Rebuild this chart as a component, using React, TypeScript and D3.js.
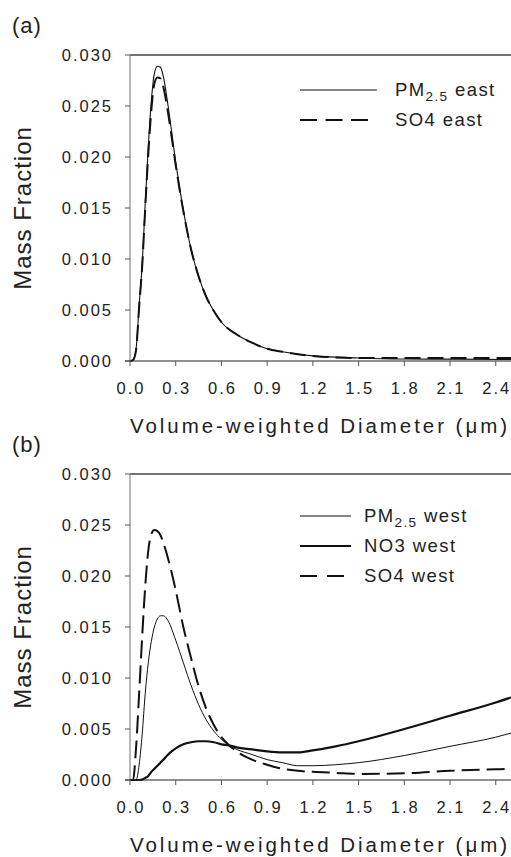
import React from "react";
import * as d3 from "d3";

const xTicks = [0, 0.3, 0.6, 0.9, 1.2, 1.5, 1.8, 2.1, 2.4];
const yTicks = [0, 0.005, 0.01, 0.015, 0.02, 0.025, 0.03];

const diameterA = [0, 0.02, 0.04, 0.06, 0.08, 0.1, 0.12, 0.14, 0.16, 0.18, 0.2, 0.22, 0.25, 0.3, 0.35, 0.4, 0.45, 0.5, 0.55, 0.6, 0.7, 0.8, 0.9, 1.0, 1.2, 1.5, 1.8, 2.1, 2.5];
const pm25East = [0, 0.0001, 0.0012, 0.0055, 0.0095, 0.0155, 0.021, 0.0255, 0.0282, 0.0289, 0.0288, 0.0278, 0.025, 0.0195, 0.0148, 0.011, 0.0083, 0.0063, 0.0049, 0.0038, 0.0026, 0.0018, 0.0012, 0.0009, 0.0005, 0.0003, 0.0002, 0.00018, 0.00015];
const so4East = [0, 0.0001, 0.0011, 0.0053, 0.0093, 0.015, 0.0203, 0.0246, 0.0272, 0.0278, 0.0277, 0.0268, 0.0243, 0.0192, 0.0147, 0.011, 0.0083, 0.0063, 0.0049, 0.0038, 0.0026, 0.0018, 0.0012, 0.0009, 0.0005, 0.0003, 0.0003, 0.0003, 0.0003];

const diameterB = [0, 0.02, 0.04, 0.06, 0.08, 0.1, 0.12, 0.14, 0.16, 0.18, 0.2, 0.22, 0.25, 0.3, 0.35, 0.4, 0.45, 0.5, 0.55, 0.6, 0.65, 0.7, 0.8, 0.9, 1.0, 1.1, 1.2, 1.35, 1.5, 1.8, 2.1, 2.4, 2.5];
const pm25West = [0, 0, 0, 0.0015, 0.0045, 0.0085, 0.0115, 0.0136, 0.015, 0.0158, 0.0161, 0.0161, 0.0156, 0.0137, 0.0115, 0.0093, 0.0074, 0.0059, 0.0048, 0.004, 0.0034, 0.003, 0.0025, 0.002, 0.0017, 0.0014, 0.0014, 0.0015, 0.0017, 0.0024, 0.0033, 0.0042, 0.0046];
const no3West = [0, 0, 0, 0, 0.00005, 0.0002, 0.0004, 0.0008, 0.0011, 0.0014, 0.0017, 0.002, 0.0025, 0.0031, 0.0035, 0.0037, 0.0038, 0.0038, 0.0037, 0.0035, 0.0034, 0.0032, 0.003, 0.0028, 0.0027, 0.0027, 0.0029, 0.0033, 0.0038, 0.005, 0.0063, 0.0076, 0.0081];
const so4West = [0, 0, 0.0032, 0.0085, 0.0141, 0.019, 0.0225, 0.0241, 0.0245, 0.0244, 0.024, 0.0232, 0.0217, 0.0186, 0.015, 0.012, 0.0092, 0.007, 0.0054, 0.0042, 0.0034, 0.0028, 0.002, 0.0015, 0.0011, 0.0009, 0.0008, 0.0007, 0.0006, 0.00065, 0.0009, 0.00105, 0.0011];

const FONT = "'Liberation Sans', Arial, Helvetica, sans-serif";
const LEFT = 130;
const RIGHT = 511;
const PLOT_H = 306;

type Series = { name: string; sub?: string; suffix: string; x: number[]; y: number[]; width: number; dash?: string; legendDash?: string; legendLen: number };

function Panel({ label, top, series, legendTop, legendTextX, legendGap }: { label: string; top: number; series: Series[]; legendTop: number; legendTextX: number; legendGap: number }) {
  const x = d3.scaleLinear().domain([0, 2.5]).range([LEFT, RIGHT]);
  const y = d3.scaleLinear().domain([0, 0.03]).range([top + PLOT_H, top]);
  const bottom = top + PLOT_H;
  const fmtY = d3.format(".3f");
  const fmtX = d3.format(".1f");
  return (
    <g>
      <text x={12} y={top - 22} fontSize={22} fontFamily={FONT} fill="#222" letterSpacing={1}>{label}</text>
      {series.map((s, i) => {
        const line = d3.line<number>().x((_, j) => x(s.x[j])).y((v) => y(v)).curve(d3.curveMonotoneX);
        return <path key={i} d={line(s.y) || ""} fill="none" stroke="#111" strokeWidth={s.width} strokeDasharray={s.dash} />;
      })}
      <line x1={LEFT} x2={RIGHT} y1={top} y2={top} stroke="#444" strokeWidth={1.3} />
      <line x1={LEFT} x2={LEFT} y1={top} y2={bottom} stroke="#888" strokeWidth={1.2} />
      <line x1={LEFT - 5} x2={RIGHT} y1={bottom} y2={bottom} stroke="#222" strokeWidth={1.2} />
      {yTicks.map((t) => (
        <g key={"y" + t}>
          <line x1={LEFT - 5} x2={LEFT} y1={y(t)} y2={y(t)} stroke="#555" strokeWidth={1} />
          <text x={113} y={y(t) + 6} textAnchor="end" fontSize={16.5} fontFamily={FONT} fill="#222" letterSpacing={2}>{fmtY(t)}</text>
        </g>
      ))}
      {xTicks.map((t) => (
        <g key={"x" + t}>
          <line x1={x(t)} x2={x(t)} y1={bottom} y2={bottom + 5} stroke="#555" strokeWidth={1} />
          <text x={x(t) + 1} y={bottom + 33} textAnchor="middle" fontSize={16.5} fontFamily={FONT} fill="#222" letterSpacing={2}>{fmtX(t)}</text>
        </g>
      ))}
      <text x={LEFT} y={bottom + 72} fontSize={20.5} fontFamily={FONT} fill="#222" textLength={377} lengthAdjust="spacing">Volume-weighted Diameter (μm)</text>
      <text transform={`translate(31,${top + PLOT_H / 2}) rotate(-90)`} textAnchor="middle" fontSize={24} fontFamily={FONT} fill="#222" letterSpacing={1}>Mass Fraction</text>
      {series.map((s, i) => {
        const ly = legendTop + i * legendGap;
        return (
          <g key={"l" + i}>
            <line x1={300} x2={300 + s.legendLen} y1={ly} y2={ly} stroke="#111" strokeWidth={s.width} strokeDasharray={s.legendDash} />
            <text x={legendTextX} y={ly + 6} fontSize={18.5} fontFamily={FONT} fill="#222" letterSpacing={1.4}>
              {s.name}
              {s.sub ? <tspan fontSize={13.5} dy={5}>{s.sub}</tspan> : null}
              <tspan dy={s.sub ? -5 : 0}>{s.suffix}</tspan>
            </text>
          </g>
        );
      })}
    </g>
  );
}

export default function App() {
  const seriesA: Series[] = [
    { name: "PM", sub: "2.5", suffix: " east", x: diameterA, y: pm25East, width: 1.1, legendLen: 77 },
    { name: "SO4", suffix: " east", x: diameterA, y: so4East, width: 2, dash: "16,7", legendDash: "17,8.5", legendLen: 68 },
  ];
  const seriesB: Series[] = [
    { name: "PM", sub: "2.5", suffix: " west", x: diameterB, y: pm25West, width: 1, legendLen: 51 },
    { name: "NO3", suffix: " west", x: diameterB, y: no3West, width: 2.2, legendLen: 51 },
    { name: "SO4", suffix: " west", x: diameterB, y: so4West, width: 2, dash: "18,7", legendDash: "17,10", legendLen: 44 },
  ];
  return (
    <svg width={511} height={857} style={{ position: "absolute", left: 0, top: 0, background: "#fff" }}>
      <rect width={511} height={857} fill="#fff" />
      <Panel label="(a)" top={55} series={seriesA} legendTop={90} legendTextX={395} legendGap={30} />
      <Panel label="(b)" top={474} series={seriesB} legendTop={516} legendTextX={364} legendGap={30} />
    </svg>
  );
}
